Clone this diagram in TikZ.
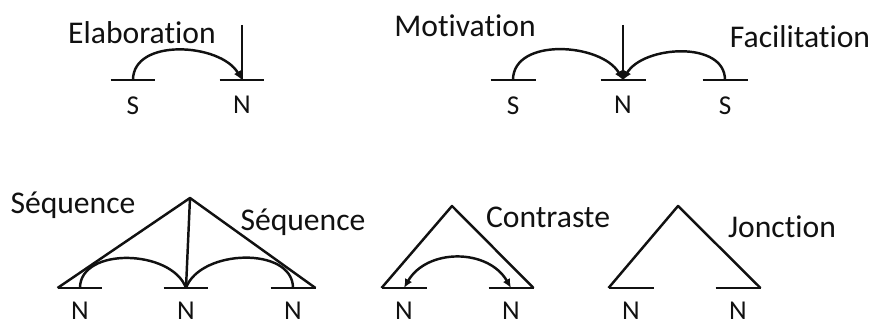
\documentclass[tikz,border=0pt]{standalone}
\usepackage{fontspec}
\setmainfont{Carlito}[Ligatures=NoCommon]
\usetikzlibrary{arrows.meta,positioning}
\definecolor{ink}{HTML}{111111}
\tikzset{
  unit/.style={
    minimum width=0.9cm,
    minimum height=0pt,
    inner sep=0pt,
    outer sep=0pt
  },
  tok/.style={
    font=\fontsize{15.5}{18}\selectfont,
    inner sep=0pt,
    text=ink
  },
  relname/.style={
    font=\fontsize{18}{21}\selectfont,
    inner sep=0pt,
    text=ink
  },
  stroke/.style={
    line width=1.4pt,
    draw=ink,
    line join=round
  },
  barline/.style={
    line width=1.6pt,
    draw=ink
  },
  link/.style={
    stroke,
    -{Latex[length=1.8mm, width=1.6mm]}
  },
  bilink/.style={
    stroke,
    {Latex[length=1.8mm, width=1.6mm]}-{Latex[length=1.8mm, width=1.6mm]}
  }
}

\begin{document}
\begin{tikzpicture}[x=0.02cm, y=0.02cm, node distance=2.8mm]
  \useasboundingbox (0,0) rectangle (875,324);

  % elaboration
  \node[unit] (es) at (133,244) {};
  \node[unit] (en) at (242,244) {};
  \node[tok, below=3.2mm of es] (esl) {S};
  \node[tok, below=3.2mm of en] (enl) {N};
  \node[relname] (elab) at (142,291) {Elaboration};
  \coordinate (etop) at (242,299);
  \draw[stroke] (etop) -- (en.center);
  \draw[link] (es.center) to[out=90, in=120] (en.center);

  % motivation + facilitation
  \node[unit] (ms) at (513,244) {};
  \node[unit] (mn) at (623,244) {};
  \node[unit] (fs) at (725,244) {};
  \node[tok, below=3.2mm of ms] (msl) {S};
  \node[tok, below=3.2mm of mn] (mnl) {N};
  \node[tok, below=3.2mm of fs] (fsl) {S};
  \node[relname] (motiv) at (465,298) {Motivation};
  \node[relname] (facil) at (800,287) {Facilitation};
  \coordinate (mtop) at (623,299);
  \draw[stroke] (mtop) -- (mn.center);
  \draw[link] (ms.center) to[out=90, in=120] (mn.center);
  \draw[link] (fs.center) to[out=90, in=60] (mn.center);

  % sequence
  \node[unit] (qa) at (80,36) {};
  \node[unit] (qb) at (186,36) {};
  \node[unit] (qc) at (293,36) {};
  \node[tok, below=of qa] (qal) {N};
  \node[tok, below=of qb] (qbl) {N};
  \node[tok, below=of qc] (qcl) {N};
  \node[relname] (seqa) at (73,119) {Séquence};
  \node[relname] (seqb) at (303,102) {Séquence};
  \coordinate (qtop) at (190,126);
  \draw[stroke] (qa.west) -- (qtop) -- (qc.east);
  \draw[stroke] (qtop) -- (qb.center);
  \draw[stroke] (qa.center) to[out=90, in=110] (qb.center);
  \draw[stroke] (qc.center) to[out=90, in=70] (qb.center);

  % contraste
  \node[unit] (ca) at (404,36) {};
  \node[unit] (cb) at (511,36) {};
  \node[tok, below=of ca] (cal) {N};
  \node[tok, below=of cb] (cbl) {N};
  \node[relname] (contr) at (548,107) {Contraste};
  \coordinate (ctop) at (452,118);
  \draw[stroke] (ca.west) -- (ctop) -- (cb.east);
  \draw[bilink] (ca.center) to[out=60, in=120, looseness=1.1] (cb.center);

  % jonction
  \node[unit] (ja) at (631,36) {};
  \node[unit] (jb) at (738,36) {};
  \node[tok, below=of ja] (jal) {N};
  \node[tok, below=of jb] (jbl) {N};
  \node[relname] (jonc) at (782,97) {Jonction};
  \coordinate (jtop) at (678,118);
  \draw[stroke] (ja.west) -- (jtop) -- (jb.east);

  \foreach \b in {es,en,ms,mn,fs,qa,qb,qc,ca,cb,ja,jb}{
    \draw[barline] (\b.west) -- (\b.east);
  }
\end{tikzpicture}
\end{document}
